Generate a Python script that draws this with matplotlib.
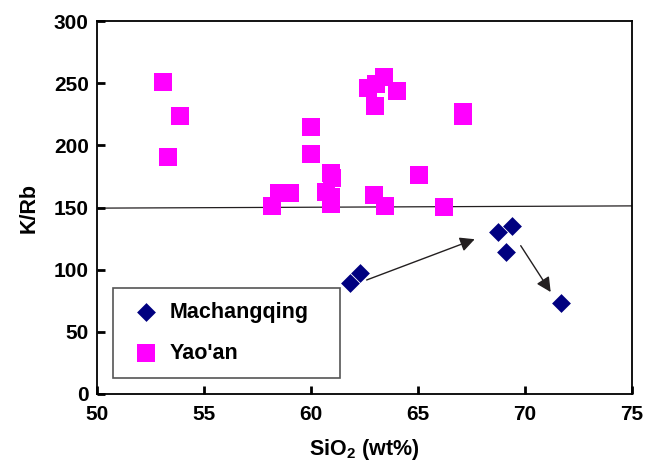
import numpy as np
import matplotlib
matplotlib.use("Agg")
import matplotlib.pyplot as plt

# Machangqing samples (SiO2 wt%, K/Rb)
mcq_sio2 = [61.8, 62.3, 68.75, 69.4, 69.1, 71.7]
mcq_krb = [89, 97.5, 130.5, 135, 114.5, 73]

# Yao'an samples
ya_sio2 = [53.1, 53.3, 53.9, 58.2, 58.5, 59.0, 60.0, 60.0, 60.7, 60.95, 61.0,
           60.95, 60.95, 62.65, 63.05, 63.4, 64.0, 63.0, 62.95, 63.45, 65.05,
           66.2, 67.1, 67.1]
ya_krb = [251, 191, 224, 151.5, 161.5, 161.5, 215, 193, 162.5, 178, 173.5,
          158.5, 153, 246.5, 249, 255, 244, 232, 160, 151.5, 176.5,
          150.5, 227, 223.5]

# reference line and trend arrows
line_x = [50, 75]
line_y = [149.5, 151.3]
arrows = [((62.6, 91.7), (67.65, 124.5)),
          ((69.8, 119.3), (71.2, 82.0))]

plt.rcParams['font.family'] = ['Liberation Sans', 'DejaVu Sans']
plt.rcParams['font.weight'] = 'bold'
plt.rcParams['mathtext.fontset'] = 'custom'
plt.rcParams['mathtext.bf'] = 'Liberation Sans:bold'

fig = plt.figure(figsize=(6.58, 4.65), dpi=100)
ax = fig.add_axes([0.1474, 0.1527, 0.8131, 0.8021])

ax.plot(line_x, line_y, color='#231f20', lw=0.9, zorder=1)

ax.scatter(ya_sio2, ya_krb, marker='s', s=185, color='#ff00ff',
           linewidths=0, label="Yao'an", zorder=2)
ax.scatter(mcq_sio2, mcq_krb, marker='D', s=92, color='#000080',
           linewidths=0, label='Machangqing', zorder=3)

for tail, head in arrows:
    ax.annotate('', xy=head, xytext=tail,
                arrowprops=dict(arrowstyle='-|>', color='#231f20', lw=1.0,
                                mutation_scale=22, shrinkA=0, shrinkB=0))

ax.set_xlim(50, 75)
ax.set_ylim(0, 300)
ax.set_xticks(np.arange(50, 76, 5))
ax.set_yticks(np.arange(0, 301, 50))
ax.tick_params(direction='in', length=6, width=2.0, labelsize=15, pad=6)
ax.tick_params(axis='x', pad=8)
for sp in ax.spines.values():
    sp.set_linewidth(1.3)

ax.set_xlabel(r'SiO$_\mathbf{2}$ (wt%)', fontsize=15.5, fontweight='bold',
              labelpad=9)
ax.set_ylabel('K/Rb', fontsize=15.5, fontweight='bold', labelpad=10)

h, l = ax.get_legend_handles_labels()
leg = ax.legend(h[::-1], l[::-1], loc='lower left',
                bbox_to_anchor=(0.03, 0.043, 0.424, 0.241), mode='expand',
                borderaxespad=0, fancybox=False, framealpha=1,
                edgecolor='#555555', scatterpoints=1, fontsize=15.5,
                handlelength=1.8, handletextpad=0.2, borderpad=0.65,
                labelspacing=0.95)
leg.get_frame().set_linewidth(1.2)

fig.savefig('out.png', dpi=100)
